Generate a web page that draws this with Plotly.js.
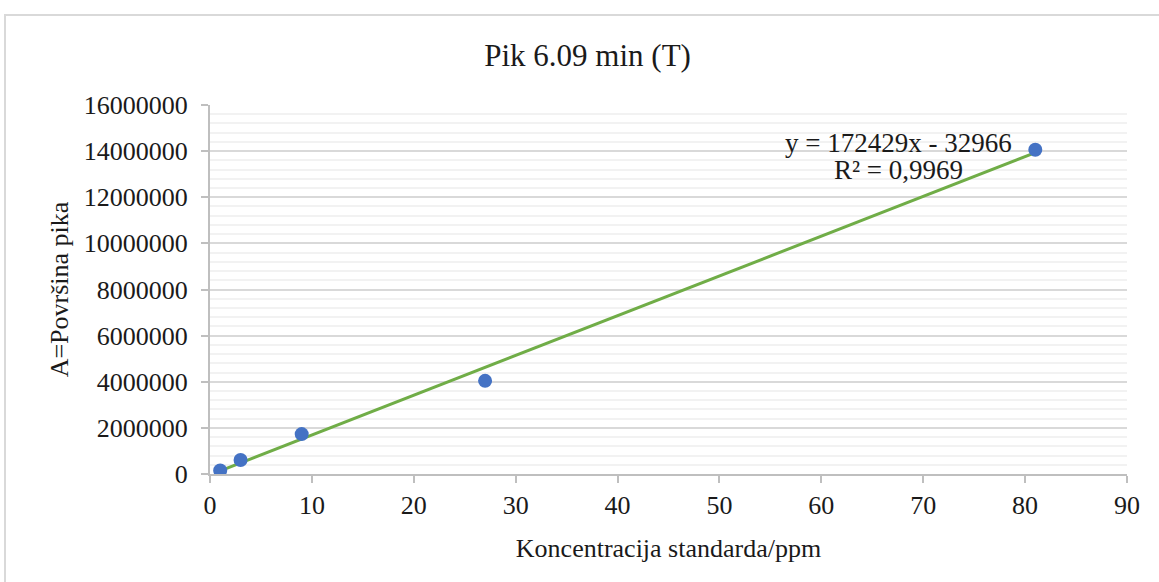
<!DOCTYPE html>
<html>
<head>
<meta charset="utf-8">
<script src="https://cdn.plot.ly/plotly-3.0.1.min.js"></script>
<style>
  html, body { margin: 0; padding: 0; background: #ffffff; overflow: hidden; }
  #frame { position: absolute; left: 4px; top: 14px; width: 1200px; height: 620px; border: 2px solid #d9d9d9; box-sizing: border-box; }
  #chart { position: absolute; left: 0; top: 0; width: 1159px; height: 582px; }
</style>
</head>
<body>
<div id="frame"></div>
<div id="chart"></div>
<script>
// Data
const concentrations = [1, 3, 9, 27, 81];                       // ppm
const peakAreas = [150000, 610000, 1730000, 4040000, 14060000]; // A = Površina pika
// Trendline as printed on the chart
const trendSlope = 172429;
const trendIntercept = -32966;
const trendR2 = "0,9969";
const chartTitle = "Pik 6.09 min (T)";
const xTitle = "Koncentracija standarda/ppm";
const yTitle = "A=Površina pika";

const xMin = Math.min(...concentrations);
const xMax = Math.max(...concentrations);
const trendX = [xMin, xMax];
const trendY = trendX.map(x => trendSlope * x + trendIntercept);

const font = "Liberation Serif, Times New Roman, serif";
const ink = '#1a1a1a';

const traces = [
  {
    x: trendX, y: trendY, type: 'scatter', mode: 'lines',
    line: { color: '#70AD47', width: 3 }, hoverinfo: 'skip', showlegend: false
  },
  {
    x: concentrations, y: peakAreas, type: 'scatter', mode: 'markers',
    marker: { color: '#4472C4', size: 14 }, showlegend: false
  }
];

const layout = {
  width: 1159, height: 582,
  margin: { l: 210, r: 32, t: 105, b: 108 },
  paper_bgcolor: 'rgba(0,0,0,0)',
  plot_bgcolor: 'rgba(0,0,0,0)',
  font: { family: font, color: ink, size: 26 },
  title: {
    text: chartTitle, font: { family: font, size: 31, color: ink },
    xref: 'container', x: 0.507, xanchor: 'center',
    yref: 'container', y: 0.905, yanchor: 'middle'
  },
  xaxis: {
    range: [0, 90], dtick: 10, tick0: 0,
    showgrid: false, zeroline: false,
    showline: true, linecolor: '#bfbfbf', linewidth: 2,
    ticks: 'outside', ticklen: 7, tickwidth: 2, tickcolor: '#bfbfbf',
    tickfont: { family: font, size: 26, color: ink },
    title: { text: xTitle, font: { family: font, size: 26, color: ink }, standoff: 20 }
  },
  yaxis: {
    range: [0, 16000000], dtick: 2000000, tick0: 0,
    tickformat: 'd',
    showgrid: true, gridcolor: '#d9d9d9', gridwidth: 2,
    minor: { dtick: 400000, showgrid: true, gridcolor: '#f2f2f2', gridwidth: 2 },
    zeroline: false,
    showline: true, linecolor: '#bfbfbf', linewidth: 2,
    ticks: 'outside', ticklen: 7, tickwidth: 2, tickcolor: '#bfbfbf',
    ticklabelstandoff: 8,
    tickfont: { family: font, size: 26, color: ink },
    title: { text: yTitle, font: { family: font, size: 26, color: ink }, standoff: 8 }
  },
  annotations: [
    {
      text: 'y = ' + trendSlope + 'x - ' + Math.abs(trendIntercept),
      xref: 'x', yref: 'y', x: 67.6, y: 14360000,
      xanchor: 'center', yanchor: 'middle', align: 'center', showarrow: false,
      font: { family: font, size: 27, color: ink }
    },
    {
      text: 'R² = ' + trendR2,
      xref: 'x', yref: 'y', x: 67.6, y: 13190000,
      xanchor: 'center', yanchor: 'middle', align: 'center', showarrow: false,
      font: { family: font, size: 27, color: ink }
    }
  ]
};

Plotly.newPlot('chart', traces, layout, { displayModeBar: false, staticPlot: true });
</script>
</body>
</html>
